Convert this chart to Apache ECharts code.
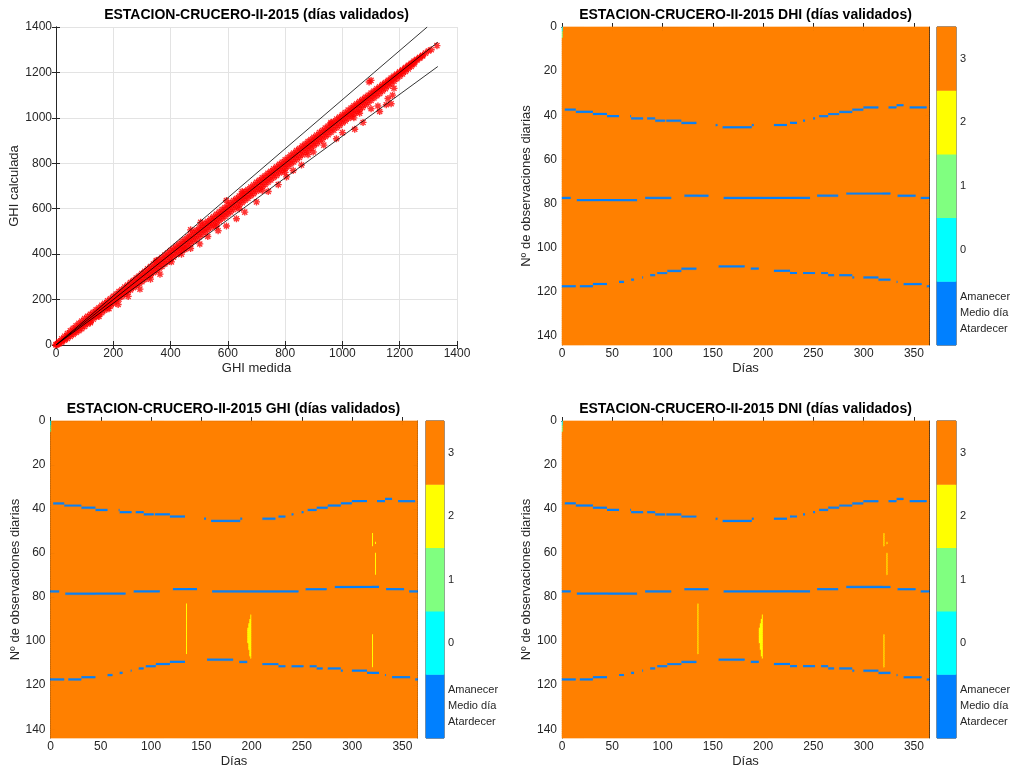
<!DOCTYPE html>
<html><head><meta charset="utf-8">
<script src="https://cdn.jsdelivr.net/npm/echarts@6/dist/echarts.min.js"></script>
<style>html,body{margin:0;padding:0;background:#fff}#c{width:1013px;height:771px}</style>
</head><body><div id="c"></div>
<script>
const FONT = 'Liberation Sans, Arial, Helvetica, sans-serif';
const TXT = '#262626';

// ---------- Scatter: GHI medida vs GHI calculada ----------
const ghiBanda = [
[0,2],[0,0],[5,7],[5,3],
[10,15],[10,8],[10,4],[20,27],[20,18],[20,12],[30,39],[30,28],[30,21],[40,51],[40,38],[40,29],[50,63],[50,48],[50,38],
[60,74],[60,58],[60,46],[70,85],[70,67],[70,55],[80,96],[80,77],[80,63],[90,106],[90,87],[90,72],[100,117],[100,97],[100,82],
[110,126],[110,107],[110,92],[120,135],[120,117],[120,102],[130,144],[130,127],[130,113],[140,155],[140,137],[140,123],
[150,164],[150,147],[150,133],[160,175],[160,157],[160,142],[170,184],[170,167],[170,153],[180,195],[180,177],[180,162],
[190,204],[190,187],[190,173],[200,215],[200,197],[200,182],[210,224],[210,207],[210,193],[220,235],[220,217],[220,202],
[230,244],[230,227],[230,213],[240,255],[240,237],[240,222],[250,264],[250,247],[250,232],[260,275],[260,257],[260,242],
[270,284],[270,267],[270,252],[280,295],[280,277],[280,261],[290,304],[290,287],[290,271],[300,315],[300,297],[300,279],
[310,325],[310,307],[310,288],[320,336],[320,317],[320,298],[330,345],[330,327],[330,307],[340,356],[340,337],[340,318],
[350,365],[350,347],[350,327],[360,376],[360,357],[360,338],[370,385],[370,367],[370,346],[380,396],[380,377],[380,357],
[390,405],[390,387],[390,366],[400,416],[400,397],[400,377],[410,425],[410,407],[410,386],[420,436],[420,417],[420,397],
[430,445],[430,427],[430,406],[440,456],[440,437],[440,417],[450,465],[450,447],[450,426],[460,476],[460,457],[460,437],
[470,485],[470,467],[470,446],[480,496],[480,477],[480,457],[490,505],[490,487],[490,466],[500,516],[500,497],[500,477],
[510,525],[510,507],[510,486],[520,536],[520,517],[520,497],[530,545],[530,527],[530,506],[540,556],[540,537],[540,517],
[550,565],[550,547],[550,526],[560,576],[560,557],[560,537],[570,585],[570,567],[570,546],[580,596],[580,577],[580,557],
[590,605],[590,587],[590,566],[600,616],[600,597],[600,577],[610,625],[610,607],[610,586],[620,636],[620,617],[620,597],
[630,645],[630,627],[630,606],[640,656],[640,637],[640,617],[650,665],[650,647],[650,626],[660,676],[660,657],[660,637],
[670,685],[670,667],[670,646],[680,696],[680,677],[680,657],[690,705],[690,687],[690,666],[700,716],[700,697],[700,677],
[710,725],[710,707],[710,686],[720,736],[720,717],[720,697],[730,745],[730,727],[730,706],[740,756],[740,737],[740,717],
[750,765],[750,747],[750,726],[760,776],[760,757],[760,737],[770,785],[770,767],[770,746],[780,796],[780,777],[780,757],
[790,805],[790,787],[790,766],[800,816],[800,797],[800,777],[810,825],[810,807],[810,786],[820,836],[820,817],[820,797],
[830,845],[830,827],[830,806],[840,856],[840,837],[840,817],[850,865],[850,847],[850,826],[860,876],[860,857],[860,837],
[870,885],[870,867],[870,846],[880,896],[880,877],[880,857],[890,905],[890,887],[890,866],[900,915],[900,897],[900,877],
[910,924],[910,907],[910,886],[920,935],[920,917],[920,897],[930,944],[930,927],[930,906],[940,955],[940,937],[940,917],
[950,964],[950,947],[950,926],[960,975],[960,957],[960,937],[970,984],[970,967],[970,946],[980,995],[980,977],[980,957],
[990,1004],[990,987],[990,966],[1000,1014],[1000,997],[1000,977],[1010,1023],[1010,1007],[1010,986],[1020,1034],[1020,1017],[1020,997],
[1030,1043],[1030,1027],[1030,1006],[1040,1053],[1040,1037],[1040,1017],[1050,1062],[1050,1047],[1050,1026],[1060,1072],[1060,1057],[1060,1037],
[1070,1081],[1070,1067],[1070,1046],[1080,1091],[1080,1077],[1080,1057],[1090,1100],[1090,1087],[1090,1066],[1100,1109],[1100,1097],[1100,1077],
[1110,1118],[1110,1107],[1110,1087],[1120,1128],[1120,1117],[1120,1097],[1130,1137],[1130,1127],[1130,1107],[1140,1147],[1140,1137],[1140,1118],
[1150,1156],[1150,1147],[1150,1128],[1160,1166],[1160,1157],[1160,1140],[1170,1175],[1170,1167],[1170,1150],[1180,1184],[1180,1177],[1180,1161],
[1190,1193],[1190,1187],[1190,1172],[1200,1203],[1200,1197],[1200,1183],[1210,1212],[1210,1207],[1210,1193],[1220,1222],[1220,1217],[1220,1204],
[1230,1231],[1230,1227],[1230,1215],[1240,1240],[1240,1236],[1240,1226],[1250,1250],[1250,1245],[1250,1237],
[1260,1258],[1260,1254],[1270,1267],[1270,1263],[1280,1276],[1280,1272],[1290,1285],[1300,1294],[1310,1300],[1330,1318]
];
const ghiDispersos = [
[120,98],[150,126],[185,160],[217,178],[252,214],[293,246],[330,290],[363,312],[403,366],[438,400],[470,425],[502,445],
[530,478],[566,503],[595,524],[630,556],[659,585],[700,630],[741,676],[776,706],[805,740],[828,768],[857,792],[898,850],
[935,880],[979,908],[1000,935],[1043,950],[1072,980],[1100,1040],[1124,1052],[1130,1028],[1153,1058],[1159,1085],
[1170,1062],[1175,1100],[1100,1165],[1093,1158],[595,636],[470,507],[505,540],[350,372],[650,676],[960,980],
[560,522],[720,680],[880,838],[1040,1000],[1180,1130],[1060,1020],[800,760],[640,600],[450,420]
];
const lineaSuperior = [[0,0],[1296,1400]];
const lineaCentral = [[0,0],[1333,1333]];
const lineaInferior = [[0,0],[1333,1226]];

// ---------- Heatmaps: validation flags per day / daily observation ----------
const nDias = 365, nObs = 144;
const ticksDias = [0,50,100,150,200,250,300,350];
const ticksObs = [0,20,40,60,80,100,120,140];
// [díaInicio, díaFin, fila]
const amanecer = [[4,14,38],[15,31,39],[32,45,40],[46,57,41],[69,69,41],[70,81,42],[86,93,42],[94,103,43],[105,119,43],
[120,134,44],[154,155,45],[161,189,46],[190,191,45],[212,224,45],[228,234,44],[241,242,43],[251,252,42],
[257,265,41],[266,276,40],[277,289,39],[290,300,38],[301,315,37],[326,333,37],[334,340,36],[347,363,37]];
const medioDia = [[1,9,78],[16,75,79],[84,109,78],[123,146,77],[162,247,78],[255,275,77],[284,327,76],[335,352,77],[358,365,78]];
const atardecer = [[1,14,118],[19,31,118],[32,45,117],[58,62,116],[70,72,115],[81,81,114],[89,93,113],[96,105,112],
[106,119,111],[120,134,110],[157,182,109],[189,196,110],[212,227,111],[228,234,112],[241,252,112],[259,265,112],
[266,271,113],[277,289,113],[290,291,114],[301,315,114],[316,327,115],[334,334,116],[341,358,117],[364,365,118]];
// [díaInicio, díaFin, filaInicio, filaFin] flag = 2
const flagsGHI = [[136,136,84,106],[197,197,95,101],[198,198,93,104],[199,199,91,107],[200,200,89,108],
[321,321,52,57],[324,324,56,56],[324,324,61,70],[321,321,98,112]];
const flagsDNI = [[136,136,84,106],[197,197,95,101],[198,198,93,104],[199,199,91,107],[200,200,89,108],
[321,321,52,57],[324,324,56,56],[324,324,61,70],[321,321,98,112]];
// [díaInicio, díaFin, filaInicio, filaFin, valor]
const esquina = [[1,1,1,2,0],[1,1,3,5,1]];
// colorbar
const cbValores = [-1,0,1,2,3];
const cbColores = ['#0080FF','#00FFFF','#80FF80','#FFFF00','#FF8000'];
const cbTicks = [-1.25,-1,-0.75,0,1,2,3];
const cbNombres = {'-0.75':'Amanecer','-1':'Medio día','-1.25':'Atardecer'};

function construir(flags) {
  const m = [];
  for (let d = 0; d < nDias; d++) m.push(new Array(nObs).fill(3));
  const put = (d0, d1, r0, r1, v) => {
    for (let d = d0; d <= d1; d++) for (let r = r0; r <= r1; r++)
      if (d >= 1 && d <= nDias && r >= 1 && r <= nObs) m[d-1][r-1] = v;
  };
  [amanecer, medioDia, atardecer].forEach(l => l.forEach(s => put(s[0], s[1], s[2], s[2], -1)));
  flags.forEach(f => put(f[0], f[1], f[2], f[3], 2));
  esquina.forEach(e => put(e[0], e[1], e[2], e[3], e[4]));
  const data = [];
  for (let d = 0; d < nDias; d++) for (let r = 0; r < nObs; r++) data.push([d, r, m[d][r]]);
  return data;
}
const diasCat = Array.from({length: nDias}, (_, i) => String(i + 1));
const obsCat = Array.from({length: nObs}, (_, i) => String(i + 1));

const axisLine = {show: true, lineStyle: {color: TXT, width: 1}};
const lbl = {fontFamily: FONT, fontSize: 12, color: TXT};
const nameStyle = {fontFamily: FONT, fontSize: 13, color: TXT};
const plain = v => String(v);

const grids = [
  {left: 56, top: 27, width: 401, height: 318},
  {left: 562, top: 27, width: 367, height: 318},
  {left: 937, top: 27, width: 19, height: 318},
  {left: 50.5, top: 421, width: 367, height: 317},
  {left: 426, top: 421, width: 18, height: 317},
  {left: 562, top: 421, width: 367, height: 317},
  {left: 937, top: 421, width: 19, height: 317}
].map(g => Object.assign({outerBoundsMode: 'none', containLabel: false}, g));
grids.forEach((g, i) => {
  if (i === 2 || i === 4 || i === 6) { g.show = true; g.borderColor = TXT; g.borderWidth = 1; }
  if (i === 1 || i === 3 || i === 5) { g.show = true; g.borderWidth = 0; g.backgroundColor = cbColores[4]; }
});

const xAxes = [], yAxes = [], series = [];
const tick = (extra) => Object.assign({inside: true, length: 4, lineStyle: {color: TXT}}, extra || {});

// scatter grid 0
xAxes.push({type: 'value', gridIndex: 0, position: 'bottom', min: 0, max: 1400, interval: 200,
  axisLine, axisTick: tick(), axisLabel: Object.assign({margin: 3, formatter: plain}, lbl),
  splitLine: {show: true, lineStyle: {color: '#e3e3e3', width: 1}},
  name: 'GHI medida', nameLocation: 'middle', nameGap: 17, nameTextStyle: nameStyle});
xAxes.push({type: 'value', gridIndex: 0, position: 'top', min: 0, max: 1400, interval: 200,
  axisLine, axisTick: tick(), axisLabel: {show: false}, splitLine: {show: false}});
yAxes.push({type: 'value', gridIndex: 0, position: 'left', min: 0, max: 1400, interval: 200,
  axisLine, axisTick: tick(), axisLabel: Object.assign({margin: 4, formatter: plain}, lbl),
  splitLine: {show: true, lineStyle: {color: '#e3e3e3', width: 1}},
  name: 'GHI calculada', nameLocation: 'middle', nameGap: 29, nameTextStyle: nameStyle});
yAxes.push({type: 'value', gridIndex: 0, position: 'right', min: 0, max: 1400, interval: 200,
  axisLine, axisTick: tick(), axisLabel: {show: false}, splitLine: {show: false}});

const asterisco = 'path://M0,-5L0,5M-5,0L5,0M-3.6,-3.6L3.6,3.6M-3.6,3.6L3.6,-3.6';
series.push({type: 'scatter', xAxisIndex: 0, yAxisIndex: 0, data: ghiBanda.concat(ghiDispersos),
  symbol: asterisco, symbolSize: 7, itemStyle: {color: 'none', borderColor: '#ff0000', borderWidth: 1.4}, z: 2});
[lineaSuperior, lineaCentral, lineaInferior].forEach(l => series.push({type: 'line', xAxisIndex: 0, yAxisIndex: 0,
  data: l, symbol: 'none', lineStyle: {color: '#000', width: 0.8}, z: 3}));

// heatmap panels
function panel(gHeat, gCb, flags, yNameGap) {
  const xi = xAxes.length, yi = yAxes.length;
  xAxes.push({type: 'category', gridIndex: gHeat, data: diasCat, show: false, position: 'bottom'});
  yAxes.push({type: 'category', gridIndex: gHeat, data: obsCat, show: false, inverse: true, position: 'left'});
  xAxes.push({type: 'value', gridIndex: gHeat, position: 'bottom', min: 0, max: nDias,
    axisLine, axisTick: tick({customValues: ticksDias}),
    axisLabel: Object.assign({margin: 3, customValues: ticksDias}, lbl), splitLine: {show: false},
    name: 'Días', nameLocation: 'middle', nameGap: 17, nameTextStyle: nameStyle});
  xAxes.push({type: 'value', gridIndex: gHeat, position: 'top', min: 0, max: nDias,
    axisLine, axisTick: tick({customValues: ticksDias}), axisLabel: {show: false}, splitLine: {show: false}});
  yAxes.push({type: 'value', gridIndex: gHeat, position: 'left', min: 0, max: nObs, inverse: true,
    axisLine, axisTick: tick({customValues: ticksObs}),
    axisLabel: Object.assign({margin: 5, customValues: ticksObs}, lbl), splitLine: {show: false},
    name: 'Nº de observaciones diarias', nameLocation: 'middle', nameGap: yNameGap, nameTextStyle: nameStyle});
  yAxes.push({type: 'value', gridIndex: gHeat, position: 'right', min: 0, max: nObs, inverse: true,
    axisLine, axisTick: tick({customValues: ticksObs}), axisLabel: {show: false}, splitLine: {show: false}});
  series.push({type: 'heatmap', xAxisIndex: xi, yAxisIndex: yi, data: construir(flags), progressive: 0,
    emphasis: {disabled: true}, itemStyle: {borderWidth: 0}});
  // colorbar
  const cxi = xAxes.length, cyi = yAxes.length;
  xAxes.push({type: 'category', gridIndex: gCb, data: ['c'], show: false});
  yAxes.push({type: 'category', gridIndex: gCb, data: cbValores.map(String), show: false});
  yAxes.push({type: 'value', gridIndex: gCb, position: 'right', min: -1.5, max: 3.5,
    axisLine: {show: false}, axisTick: {show: true, inside: true, length: 3, lineStyle: {color: TXT}, customValues: cbTicks},
    axisLabel: {show: true, margin: 4, customValues: cbTicks, fontFamily: FONT, fontSize: 11, color: TXT,
      formatter: v => cbNombres[String(v)] || String(v)},
    splitLine: {show: false}});
  series.push({type: 'heatmap', xAxisIndex: cxi, yAxisIndex: cyi,
    data: cbValores.map((v, i) => [0, i, v]), progressive: 0, emphasis: {disabled: true}});
}
panel(1, 2, [], 26);
panel(3, 4, flagsGHI, 27);
panel(5, 6, flagsDNI, 26);

const heatIdx = series.map((s, i) => s.type === 'heatmap' ? i : -1).filter(i => i >= 0);

const titulos = [
  ['ESTACION-CRUCERO-II-2015 (días validados)', 256.5, 15],
  ['ESTACION-CRUCERO-II-2015 DHI (días validados)', 745.5, 15],
  ['ESTACION-CRUCERO-II-2015 GHI (días validados)', 233.5, 409],
  ['ESTACION-CRUCERO-II-2015 DNI (días validados)', 745.5, 409]
];

const chart = echarts.init(document.getElementById('c'), null, {renderer: 'canvas'});
chart.setOption({
  animation: false,
  backgroundColor: '#fff',
  textStyle: {fontFamily: FONT},
  grid: grids,
  xAxis: xAxes,
  yAxis: yAxes,
  visualMap: {type: 'piecewise', show: false, seriesIndex: heatIdx, dimension: 2,
    pieces: cbValores.map((v, i) => ({value: v, color: cbColores[i]}))},
  graphic: titulos.map(t => ({type: 'text', x: t[1], y: t[2],
    style: {text: t[0], font: 'bold 14px ' + FONT, fill: '#000', align: 'center', verticalAlign: 'middle',
      textAlign: 'center', textVerticalAlign: 'middle'}})),
  series
});
</script>
</body></html>
